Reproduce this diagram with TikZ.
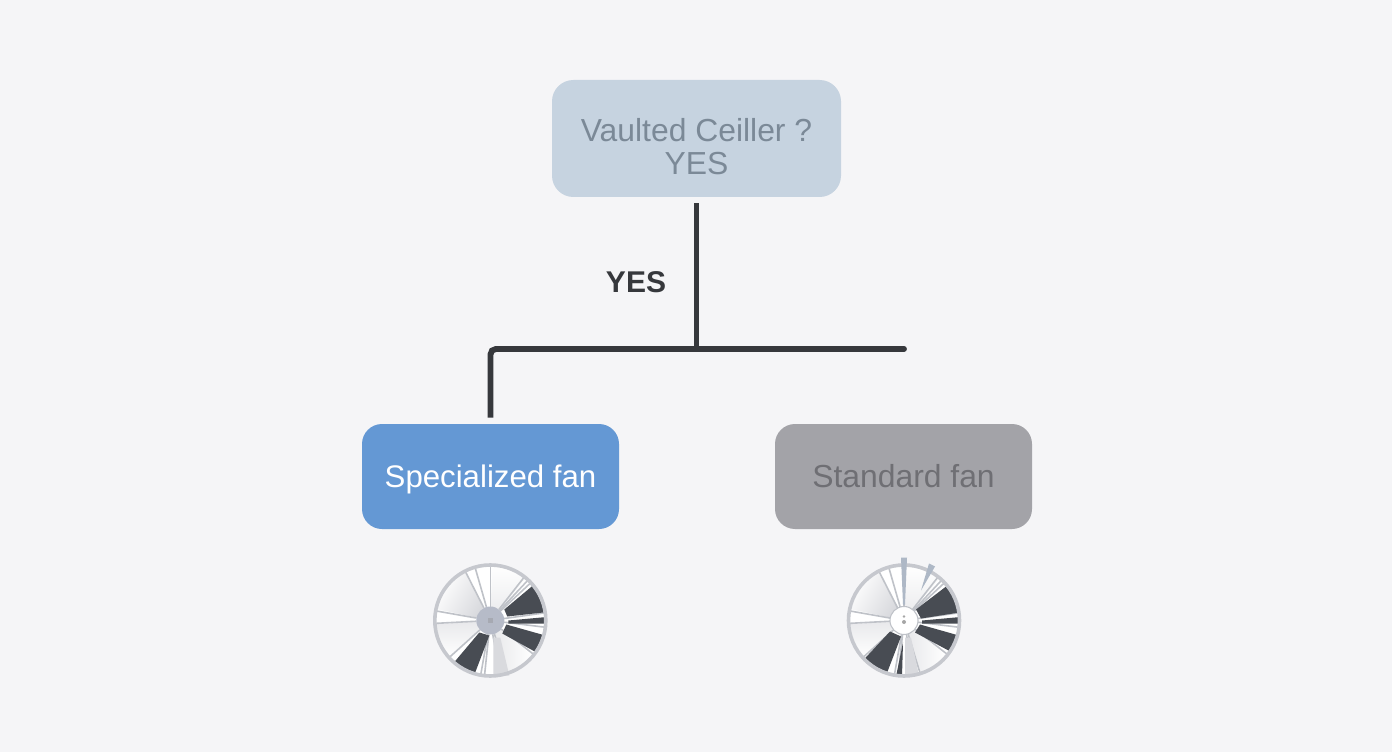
\documentclass[tikz,border=0pt]{standalone}
\usepackage{fontspec}
\setmainfont{Liberation Sans}
\definecolor{bgc}{HTML}{F5F5F7}
\definecolor{topc}{HTML}{C6D3E0}
\definecolor{toptext}{HTML}{7B8997}
\definecolor{bluec}{HTML}{6498D4}
\definecolor{grayc}{HTML}{A3A3A8}
\definecolor{graytext}{HTML}{6F6F74}
\definecolor{linec}{HTML}{36383C}
\definecolor{darkw}{HTML}{484C53}
\definecolor{spokec}{HTML}{BFC2C8}
\definecolor{ringc}{HTML}{C6C8CE}
\definecolor{hubc}{HTML}{B6BBC8}
\definecolor{softc}{HTML}{D9DADE}
\definecolor{spikec}{HTML}{AEB8C6}
\tikzset{
  box/.style={rounded corners=15pt,inner sep=0pt,text height=20pt,text depth=4pt,font=\fontsize{23.4pt}{24.75pt}\selectfont},
  conn/.style={draw=linec,line width=4.4pt},
}
\newcommand\fansec[5]{\path[#5] (#1:#3) -- (#1:#4) arc[start angle=#1,end angle=#2,radius=#4] -- (#2:#3) arc[start angle=#2,end angle=#1,radius=#3] -- cycle;}
\newcommand\fanspoke[1]{\draw[spokec,line width=1.2pt] (#1:14) -- (#1:56);}
\newcommand\fancommon{%
  \fill[white] (0,0) circle[radius=56];
  \fansec{118}{168}{12}{55}{left color=white,right color=softc,shading angle=60}
  \fansec{184}{222}{12}{55}{top color=softc!60,bottom color=white}
  \fansec{50}{88}{12}{55}{top color=white,bottom color=softc!50}
  \fansec{-72}{-40}{12}{55}{left color=softc!60,right color=white}
  \foreach \a in {90,106,117,170,183,8,-7,47,52,43,-38,-73,-80,-96,-100,222}{\fanspoke{\a}}
}
\begin{document}
\begin{tikzpicture}[x=0.75pt,y=-0.75pt]
\useasboundingbox (0,0) rectangle (1392,752);
\fill[bgc] (0,0) rectangle (1392,752);

\node[box,fill=topc,text=toptext,minimum width=289*0.75pt,minimum height=117*0.75pt,align=center,text height=58.5pt,text depth=4pt,rounded corners=16pt,font=\fontsize{23.9pt}{24.75pt}\selectfont] (top) at (696.5,138.5) {Vaulted Ceiller ?\\YES};
\node[box,fill=bluec,text=white,minimum width=257*0.75pt,minimum height=105*0.75pt] (spec) at (490.5,476.5) {Specialized fan};
\node[box,fill=grayc,text=graytext,minimum width=257*0.75pt,minimum height=105*0.75pt,font=\fontsize{23.9pt}{24.75pt}\selectfont] (std) at (903.5,476.5) {Standard fan};
\node[text=linec,font=\bfseries\fontsize{22.5pt}{24pt}\selectfont,inner sep=0pt] (yes) at (636,282) {YES};

\coordinate (barend) at (904,349);
\coordinate (junction) at (top.south |- barend);
\draw[conn,shorten <=4.5pt] (top.south) -- (junction);
\draw[conn,rounded corners=4pt,shorten >=4.5pt] (junction) -- (spec.north |- barend) -- (spec.north);
\draw[conn,line cap=round] (junction) -- (barend);

% left fan
\begin{scope}[shift={(490.3,620.5)},yscale=-1]
  \fancommon
  \fill[softc] (3,-17) -- (3,-55) -- (19,-55) -- (10,-17) -- cycle;
  \begin{scope}
    \clip (0,0) circle[radius=54];
    \fill[darkw] (14,11) -- (45,37) -- (62,37) -- (62,9) -- (17,4) -- cycle;
    \fill[darkw] (18,0) -- (62,4) -- (62,-3) -- (18,-3) -- cycle;
    \fill[darkw] (16,-4) -- (62,-17) -- (48,-33) -- (12,-13) -- cycle;
    \fill[darkw] (-38,-44) -- (-17,-57) -- (-1,-15) -- (-11,-12) -- cycle;
  \end{scope}
  \draw[ringc,line width=2.7pt] (0,0) circle[radius=55.5];
  \fill[hubc] (0,0) circle[radius=14];
  \fill[hubc!70!gray] (-2.5,-2) rectangle (2.5,3);
\end{scope}

% right fan
\begin{scope}[shift={(904,620.5)},yscale=-1]
  \fancommon
  \fill[softc] (1,-17) -- (1,-55) -- (15,-55) -- (7,-17) -- cycle;
  \begin{scope}
    \clip (0,0) circle[radius=54];
    \fill[darkw] (12,11) -- (46,37) -- (62,37) -- (62,9) -- (17,2) -- cycle;
    \fill[darkw] (18,0) -- (62,4) -- (62,-3) -- (18,-3) -- cycle;
    \fill[darkw] (16,-4) -- (62,-17) -- (50,-33) -- (11,-12) -- cycle;
    \fill[darkw] (-42,-41) -- (-18,-55) -- (-3,-16) -- (-14,-11) -- cycle;
    \fill[darkw] (-8,-56) -- (-2,-56) -- (-1,-22) -- cycle;
  \end{scope}
  \draw[ringc,line width=2.7pt] (0,0) circle[radius=55.5];
  \fill[white] (0,0) circle[radius=14];
  \draw[spokec,line width=0.8pt] (0,0) circle[radius=14];
  \fill[gray!70] (0,4) circle[radius=1.4];
  \fill[gray!70] (0,-1.5) circle[radius=2];
  \fill[spikec] (-3,63) -- (3,63) -- (1,16) -- (-1,16) -- cycle;
  \fill[spikec] (25,57) -- (31,54) -- (17,30) -- cycle;
\end{scope}
\end{tikzpicture}
\end{document}
